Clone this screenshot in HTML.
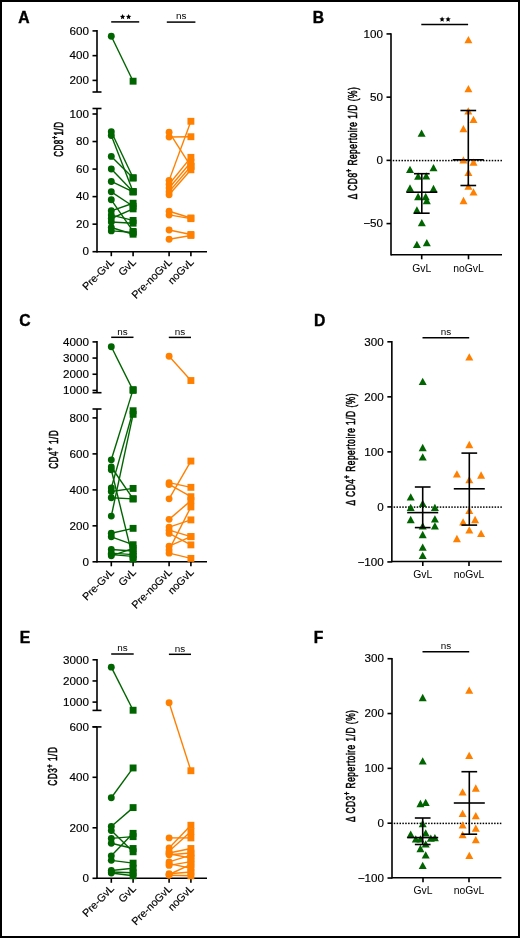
<!DOCTYPE html>
<html><head><meta charset="utf-8"><style>
html,body{margin:0;padding:0;background:#fff;}
body{width:520px;height:938px;overflow:hidden;}
svg{display:block;will-change:transform;font-family:"Liberation Sans",sans-serif;}
</style></head><body>
<svg width="520" height="938" viewBox="0 0 520 938">
<rect width="520" height="938" fill="#fff"/>
<rect x="1" y="1" width="518" height="936" fill="none" stroke="#000" stroke-width="2"/>
<text transform="translate(18.30,22.70)" font-size="15.7" text-anchor="start" font-weight="bold" fill="#000" stroke="#000" stroke-width="0.4">A</text>
<text transform="translate(312.80,22.70)" font-size="15.7" text-anchor="start" font-weight="bold" fill="#000" stroke="#000" stroke-width="0.4">B</text>
<text transform="translate(19.30,325.90)" font-size="15.7" text-anchor="start" font-weight="bold" fill="#000" stroke="#000" stroke-width="0.4">C</text>
<text transform="translate(313.90,325.90)" font-size="15.7" text-anchor="start" font-weight="bold" fill="#000" stroke="#000" stroke-width="0.4">D</text>
<text transform="translate(19.70,642.90)" font-size="15.7" text-anchor="start" font-weight="bold" fill="#000" stroke="#000" stroke-width="0.4">E</text>
<text transform="translate(313.70,642.90)" font-size="15.7" text-anchor="start" font-weight="bold" fill="#000" stroke="#000" stroke-width="0.4">F</text>
<line x1="97.00" y1="30.10" x2="97.00" y2="92.00" stroke="#000" stroke-width="1.6" />
<line x1="92.50" y1="92.00" x2="101.50" y2="92.00" stroke="#000" stroke-width="1.6" />
<line x1="92.50" y1="30.90" x2="97.00" y2="30.90" stroke="#000" stroke-width="1.6" />
<text transform="translate(88.90,34.60) scale(1.12,1)" font-size="10.4" text-anchor="end" font-weight="normal" fill="#000" stroke="#000" stroke-width="0.15">600</text>
<line x1="92.50" y1="55.65" x2="97.00" y2="55.65" stroke="#000" stroke-width="1.6" />
<text transform="translate(88.90,59.35) scale(1.12,1)" font-size="10.4" text-anchor="end" font-weight="normal" fill="#000" stroke="#000" stroke-width="0.15">400</text>
<line x1="92.50" y1="80.40" x2="97.00" y2="80.40" stroke="#000" stroke-width="1.6" />
<text transform="translate(88.90,84.10) scale(1.12,1)" font-size="10.4" text-anchor="end" font-weight="normal" fill="#000" stroke="#000" stroke-width="0.15">200</text>
<line x1="97.00" y1="108.50" x2="97.00" y2="252.50" stroke="#000" stroke-width="1.6" />
<line x1="92.50" y1="108.50" x2="101.50" y2="108.50" stroke="#000" stroke-width="1.6" />
<line x1="92.50" y1="114.00" x2="97.00" y2="114.00" stroke="#000" stroke-width="1.6" />
<text transform="translate(88.90,117.70) scale(1.12,1)" font-size="10.4" text-anchor="end" font-weight="normal" fill="#000" stroke="#000" stroke-width="0.15">100</text>
<line x1="92.50" y1="141.54" x2="97.00" y2="141.54" stroke="#000" stroke-width="1.6" />
<text transform="translate(88.90,145.24) scale(1.12,1)" font-size="10.4" text-anchor="end" font-weight="normal" fill="#000" stroke="#000" stroke-width="0.15">80</text>
<line x1="92.50" y1="169.08" x2="97.00" y2="169.08" stroke="#000" stroke-width="1.6" />
<text transform="translate(88.90,172.78) scale(1.12,1)" font-size="10.4" text-anchor="end" font-weight="normal" fill="#000" stroke="#000" stroke-width="0.15">60</text>
<line x1="92.50" y1="196.62" x2="97.00" y2="196.62" stroke="#000" stroke-width="1.6" />
<text transform="translate(88.90,200.32) scale(1.12,1)" font-size="10.4" text-anchor="end" font-weight="normal" fill="#000" stroke="#000" stroke-width="0.15">40</text>
<line x1="92.50" y1="224.16" x2="97.00" y2="224.16" stroke="#000" stroke-width="1.6" />
<text transform="translate(88.90,227.86) scale(1.12,1)" font-size="10.4" text-anchor="end" font-weight="normal" fill="#000" stroke="#000" stroke-width="0.15">20</text>
<line x1="92.50" y1="251.70" x2="97.00" y2="251.70" stroke="#000" stroke-width="1.6" />
<text transform="translate(88.90,255.40) scale(1.12,1)" font-size="10.4" text-anchor="end" font-weight="normal" fill="#000" stroke="#000" stroke-width="0.15">0</text>
<line x1="97.00" y1="251.70" x2="207.00" y2="251.70" stroke="#000" stroke-width="1.6" />
<line x1="111.30" y1="251.70" x2="111.30" y2="256.20" stroke="#000" stroke-width="1.6" />
<line x1="133.10" y1="251.70" x2="133.10" y2="256.20" stroke="#000" stroke-width="1.6" />
<line x1="169.10" y1="251.70" x2="169.10" y2="256.20" stroke="#000" stroke-width="1.6" />
<line x1="190.90" y1="251.70" x2="190.90" y2="256.20" stroke="#000" stroke-width="1.6" />
<text transform="translate(114.80,262.70) rotate(-45)" font-size="10.7" text-anchor="end" font-weight="normal" fill="#000" stroke="#000" stroke-width="0.15">Pre-GvL</text>
<text transform="translate(136.60,262.70) rotate(-45)" font-size="10.7" text-anchor="end" font-weight="normal" fill="#000" stroke="#000" stroke-width="0.15">GvL</text>
<text transform="translate(172.60,262.70) rotate(-45)" font-size="10.7" text-anchor="end" font-weight="normal" fill="#000" stroke="#000" stroke-width="0.15">Pre-noGvL</text>
<text transform="translate(194.40,262.70) rotate(-45)" font-size="10.7" text-anchor="end" font-weight="normal" fill="#000" stroke="#000" stroke-width="0.15">noGvL</text>
<text transform="translate(62.60,139.15) rotate(-90) scale(0.66,1)" font-size="12.2" font-weight="normal" stroke="#000" stroke-width="0.55" letter-spacing="0.7" text-anchor="middle">CD8<tspan font-size="8.78" dy="-4.88">+</tspan><tspan dy="4.88">1/D</tspan></text>
<line x1="111.20" y1="21.90" x2="139.20" y2="21.90" stroke="#000" stroke-width="1.5" />
<polygon points="122.60,14.10 123.37,15.84 125.26,16.03 123.85,17.31 124.25,19.17 122.60,18.22 120.95,19.17 121.35,17.31 119.94,16.03 121.83,15.84" fill="#000"/>
<polygon points="128.60,14.10 129.37,15.84 131.26,16.03 129.85,17.31 130.25,19.17 128.60,18.22 126.95,19.17 127.35,17.31 125.94,16.03 127.83,15.84" fill="#000"/>
<line x1="166.80" y1="22.10" x2="195.40" y2="22.10" stroke="#000" stroke-width="1.5" />
<text transform="translate(181.10,19.30) scale(1.1,1)" font-size="9.0" text-anchor="middle" font-weight="normal" fill="#000">ns</text>
<line x1="111.30" y1="36.30" x2="133.10" y2="81.20" stroke="#006400" stroke-width="1.4" />
<circle cx="111.30" cy="36.30" r="3.45" fill="#006400"/>
<rect x="129.65" y="77.75" width="6.9" height="6.9" fill="#006400"/>
<line x1="111.30" y1="131.76" x2="133.10" y2="177.76" stroke="#006400" stroke-width="1.4" />
<line x1="111.30" y1="135.48" x2="133.10" y2="191.66" stroke="#006400" stroke-width="1.4" />
<line x1="111.30" y1="156.41" x2="133.10" y2="178.03" stroke="#006400" stroke-width="1.4" />
<line x1="111.30" y1="168.94" x2="133.10" y2="191.66" stroke="#006400" stroke-width="1.4" />
<line x1="111.30" y1="181.47" x2="133.10" y2="191.94" stroke="#006400" stroke-width="1.4" />
<line x1="111.30" y1="191.80" x2="133.10" y2="206.26" stroke="#006400" stroke-width="1.4" />
<line x1="111.30" y1="199.79" x2="133.10" y2="231.46" stroke="#006400" stroke-width="1.4" />
<line x1="111.30" y1="210.80" x2="133.10" y2="203.23" stroke="#006400" stroke-width="1.4" />
<line x1="111.30" y1="215.07" x2="133.10" y2="220.44" stroke="#006400" stroke-width="1.4" />
<line x1="111.30" y1="218.51" x2="133.10" y2="208.88" stroke="#006400" stroke-width="1.4" />
<line x1="111.30" y1="221.96" x2="133.10" y2="223.20" stroke="#006400" stroke-width="1.4" />
<line x1="111.30" y1="227.46" x2="133.10" y2="234.21" stroke="#006400" stroke-width="1.4" />
<line x1="111.30" y1="230.91" x2="133.10" y2="232.42" stroke="#006400" stroke-width="1.4" />
<circle cx="111.30" cy="131.76" r="3.45" fill="#006400"/>
<circle cx="111.30" cy="135.48" r="3.45" fill="#006400"/>
<circle cx="111.30" cy="156.41" r="3.45" fill="#006400"/>
<circle cx="111.30" cy="168.94" r="3.45" fill="#006400"/>
<circle cx="111.30" cy="181.47" r="3.45" fill="#006400"/>
<circle cx="111.30" cy="191.80" r="3.45" fill="#006400"/>
<circle cx="111.30" cy="199.79" r="3.45" fill="#006400"/>
<circle cx="111.30" cy="210.80" r="3.45" fill="#006400"/>
<circle cx="111.30" cy="215.07" r="3.45" fill="#006400"/>
<circle cx="111.30" cy="218.51" r="3.45" fill="#006400"/>
<circle cx="111.30" cy="221.96" r="3.45" fill="#006400"/>
<circle cx="111.30" cy="227.46" r="3.45" fill="#006400"/>
<circle cx="111.30" cy="230.91" r="3.45" fill="#006400"/>
<rect x="129.65" y="174.31" width="6.9" height="6.9" fill="#006400"/>
<rect x="129.65" y="188.21" width="6.9" height="6.9" fill="#006400"/>
<rect x="129.65" y="174.58" width="6.9" height="6.9" fill="#006400"/>
<rect x="129.65" y="188.21" width="6.9" height="6.9" fill="#006400"/>
<rect x="129.65" y="188.49" width="6.9" height="6.9" fill="#006400"/>
<rect x="129.65" y="202.81" width="6.9" height="6.9" fill="#006400"/>
<rect x="129.65" y="228.01" width="6.9" height="6.9" fill="#006400"/>
<rect x="129.65" y="199.78" width="6.9" height="6.9" fill="#006400"/>
<rect x="129.65" y="216.99" width="6.9" height="6.9" fill="#006400"/>
<rect x="129.65" y="205.43" width="6.9" height="6.9" fill="#006400"/>
<rect x="129.65" y="219.75" width="6.9" height="6.9" fill="#006400"/>
<rect x="129.65" y="230.76" width="6.9" height="6.9" fill="#006400"/>
<rect x="129.65" y="228.97" width="6.9" height="6.9" fill="#006400"/>
<line x1="169.10" y1="132.18" x2="190.90" y2="166.33" stroke="#ff8000" stroke-width="1.4" />
<line x1="169.10" y1="137.00" x2="190.90" y2="136.72" stroke="#ff8000" stroke-width="1.4" />
<line x1="169.10" y1="180.37" x2="190.90" y2="121.30" stroke="#ff8000" stroke-width="1.4" />
<line x1="169.10" y1="184.23" x2="190.90" y2="157.38" stroke="#ff8000" stroke-width="1.4" />
<line x1="169.10" y1="187.94" x2="190.90" y2="162.19" stroke="#ff8000" stroke-width="1.4" />
<line x1="169.10" y1="191.66" x2="190.90" y2="166.33" stroke="#ff8000" stroke-width="1.4" />
<line x1="169.10" y1="194.69" x2="190.90" y2="169.77" stroke="#ff8000" stroke-width="1.4" />
<line x1="169.10" y1="211.22" x2="190.90" y2="217.96" stroke="#ff8000" stroke-width="1.4" />
<line x1="169.10" y1="214.93" x2="190.90" y2="218.65" stroke="#ff8000" stroke-width="1.4" />
<line x1="169.10" y1="229.94" x2="190.90" y2="234.49" stroke="#ff8000" stroke-width="1.4" />
<line x1="169.10" y1="239.31" x2="190.90" y2="235.45" stroke="#ff8000" stroke-width="1.4" />
<circle cx="169.10" cy="132.18" r="3.45" fill="#ff8000"/>
<circle cx="169.10" cy="137.00" r="3.45" fill="#ff8000"/>
<circle cx="169.10" cy="180.37" r="3.45" fill="#ff8000"/>
<circle cx="169.10" cy="184.23" r="3.45" fill="#ff8000"/>
<circle cx="169.10" cy="187.94" r="3.45" fill="#ff8000"/>
<circle cx="169.10" cy="191.66" r="3.45" fill="#ff8000"/>
<circle cx="169.10" cy="194.69" r="3.45" fill="#ff8000"/>
<circle cx="169.10" cy="211.22" r="3.45" fill="#ff8000"/>
<circle cx="169.10" cy="214.93" r="3.45" fill="#ff8000"/>
<circle cx="169.10" cy="229.94" r="3.45" fill="#ff8000"/>
<circle cx="169.10" cy="239.31" r="3.45" fill="#ff8000"/>
<rect x="187.45" y="162.88" width="6.9" height="6.9" fill="#ff8000"/>
<rect x="187.45" y="133.27" width="6.9" height="6.9" fill="#ff8000"/>
<rect x="187.45" y="117.85" width="6.9" height="6.9" fill="#ff8000"/>
<rect x="187.45" y="153.93" width="6.9" height="6.9" fill="#ff8000"/>
<rect x="187.45" y="158.75" width="6.9" height="6.9" fill="#ff8000"/>
<rect x="187.45" y="162.88" width="6.9" height="6.9" fill="#ff8000"/>
<rect x="187.45" y="166.32" width="6.9" height="6.9" fill="#ff8000"/>
<rect x="187.45" y="214.51" width="6.9" height="6.9" fill="#ff8000"/>
<rect x="187.45" y="215.20" width="6.9" height="6.9" fill="#ff8000"/>
<rect x="187.45" y="231.04" width="6.9" height="6.9" fill="#ff8000"/>
<rect x="187.45" y="232.00" width="6.9" height="6.9" fill="#ff8000"/>
<line x1="97.00" y1="341.10" x2="97.00" y2="392.70" stroke="#000" stroke-width="1.6" />
<line x1="92.50" y1="392.70" x2="101.50" y2="392.70" stroke="#000" stroke-width="1.6" />
<line x1="92.50" y1="341.90" x2="97.00" y2="341.90" stroke="#000" stroke-width="1.6" />
<text transform="translate(88.90,345.60) scale(1.12,1)" font-size="10.4" text-anchor="end" font-weight="normal" fill="#000" stroke="#000" stroke-width="0.15">4000</text>
<line x1="92.50" y1="358.07" x2="97.00" y2="358.07" stroke="#000" stroke-width="1.6" />
<text transform="translate(88.90,361.77) scale(1.12,1)" font-size="10.4" text-anchor="end" font-weight="normal" fill="#000" stroke="#000" stroke-width="0.15">3000</text>
<line x1="92.50" y1="374.24" x2="97.00" y2="374.24" stroke="#000" stroke-width="1.6" />
<text transform="translate(88.90,377.94) scale(1.12,1)" font-size="10.4" text-anchor="end" font-weight="normal" fill="#000" stroke="#000" stroke-width="0.15">2000</text>
<line x1="92.50" y1="390.41" x2="97.00" y2="390.41" stroke="#000" stroke-width="1.6" />
<text transform="translate(88.90,394.11) scale(1.12,1)" font-size="10.4" text-anchor="end" font-weight="normal" fill="#000" stroke="#000" stroke-width="0.15">1000</text>
<line x1="97.00" y1="409.00" x2="97.00" y2="562.60" stroke="#000" stroke-width="1.6" />
<line x1="92.50" y1="409.00" x2="101.50" y2="409.00" stroke="#000" stroke-width="1.6" />
<line x1="92.50" y1="417.92" x2="97.00" y2="417.92" stroke="#000" stroke-width="1.6" />
<text transform="translate(88.90,421.62) scale(1.12,1)" font-size="10.4" text-anchor="end" font-weight="normal" fill="#000" stroke="#000" stroke-width="0.15">800</text>
<line x1="92.50" y1="453.89" x2="97.00" y2="453.89" stroke="#000" stroke-width="1.6" />
<text transform="translate(88.90,457.59) scale(1.12,1)" font-size="10.4" text-anchor="end" font-weight="normal" fill="#000" stroke="#000" stroke-width="0.15">600</text>
<line x1="92.50" y1="489.86" x2="97.00" y2="489.86" stroke="#000" stroke-width="1.6" />
<text transform="translate(88.90,493.56) scale(1.12,1)" font-size="10.4" text-anchor="end" font-weight="normal" fill="#000" stroke="#000" stroke-width="0.15">400</text>
<line x1="92.50" y1="525.83" x2="97.00" y2="525.83" stroke="#000" stroke-width="1.6" />
<text transform="translate(88.90,529.53) scale(1.12,1)" font-size="10.4" text-anchor="end" font-weight="normal" fill="#000" stroke="#000" stroke-width="0.15">200</text>
<line x1="92.50" y1="561.80" x2="97.00" y2="561.80" stroke="#000" stroke-width="1.6" />
<text transform="translate(88.90,565.50) scale(1.12,1)" font-size="10.4" text-anchor="end" font-weight="normal" fill="#000" stroke="#000" stroke-width="0.15">0</text>
<line x1="97.00" y1="561.80" x2="207.00" y2="561.80" stroke="#000" stroke-width="1.6" />
<line x1="111.30" y1="561.80" x2="111.30" y2="566.30" stroke="#000" stroke-width="1.6" />
<line x1="133.10" y1="561.80" x2="133.10" y2="566.30" stroke="#000" stroke-width="1.6" />
<line x1="169.10" y1="561.80" x2="169.10" y2="566.30" stroke="#000" stroke-width="1.6" />
<line x1="190.90" y1="561.80" x2="190.90" y2="566.30" stroke="#000" stroke-width="1.6" />
<text transform="translate(114.80,572.80) rotate(-45)" font-size="10.7" text-anchor="end" font-weight="normal" fill="#000" stroke="#000" stroke-width="0.15">Pre-GvL</text>
<text transform="translate(136.60,572.80) rotate(-45)" font-size="10.7" text-anchor="end" font-weight="normal" fill="#000" stroke="#000" stroke-width="0.15">GvL</text>
<text transform="translate(172.60,572.80) rotate(-45)" font-size="10.7" text-anchor="end" font-weight="normal" fill="#000" stroke="#000" stroke-width="0.15">Pre-noGvL</text>
<text transform="translate(194.40,572.80) rotate(-45)" font-size="10.7" text-anchor="end" font-weight="normal" fill="#000" stroke="#000" stroke-width="0.15">noGvL</text>
<text transform="translate(57.60,449.30) rotate(-90) scale(0.68,1)" font-size="12.2" font-weight="normal" stroke="#000" stroke-width="0.55" letter-spacing="0.7" text-anchor="middle">CD4<tspan font-size="8.78" dy="-4.88">+</tspan><tspan dy="4.88"> 1/D</tspan></text>
<line x1="111.20" y1="337.30" x2="133.50" y2="337.30" stroke="#000" stroke-width="1.5" />
<text transform="translate(122.35,334.50) scale(1.1,1)" font-size="9.0" text-anchor="middle" font-weight="normal" fill="#000">ns</text>
<line x1="168.80" y1="337.40" x2="191.00" y2="337.40" stroke="#000" stroke-width="1.5" />
<text transform="translate(179.90,334.60) scale(1.1,1)" font-size="9.0" text-anchor="middle" font-weight="normal" fill="#000">ns</text>
<line x1="111.30" y1="346.75" x2="133.10" y2="390.41" stroke="#006400" stroke-width="1.4" />
<line x1="111.30" y1="459.83" x2="133.10" y2="389.60" stroke="#006400" stroke-width="1.4" />
<line x1="111.30" y1="467.02" x2="133.10" y2="498.85" stroke="#006400" stroke-width="1.4" />
<line x1="111.30" y1="469.72" x2="133.10" y2="559.10" stroke="#006400" stroke-width="1.4" />
<line x1="111.30" y1="487.88" x2="133.10" y2="410.73" stroke="#006400" stroke-width="1.4" />
<line x1="111.30" y1="491.48" x2="133.10" y2="488.42" stroke="#006400" stroke-width="1.4" />
<line x1="111.30" y1="497.77" x2="133.10" y2="498.85" stroke="#006400" stroke-width="1.4" />
<line x1="111.30" y1="516.12" x2="133.10" y2="414.32" stroke="#006400" stroke-width="1.4" />
<line x1="111.30" y1="533.20" x2="133.10" y2="528.35" stroke="#006400" stroke-width="1.4" />
<line x1="111.30" y1="536.80" x2="133.10" y2="544.71" stroke="#006400" stroke-width="1.4" />
<line x1="111.30" y1="549.57" x2="133.10" y2="551.01" stroke="#006400" stroke-width="1.4" />
<line x1="111.30" y1="553.17" x2="133.10" y2="554.61" stroke="#006400" stroke-width="1.4" />
<line x1="111.30" y1="554.61" x2="133.10" y2="556.40" stroke="#006400" stroke-width="1.4" />
<line x1="111.30" y1="555.86" x2="133.10" y2="548.31" stroke="#006400" stroke-width="1.4" />
<circle cx="111.30" cy="346.75" r="3.45" fill="#006400"/>
<circle cx="111.30" cy="459.83" r="3.45" fill="#006400"/>
<circle cx="111.30" cy="467.02" r="3.45" fill="#006400"/>
<circle cx="111.30" cy="469.72" r="3.45" fill="#006400"/>
<circle cx="111.30" cy="487.88" r="3.45" fill="#006400"/>
<circle cx="111.30" cy="491.48" r="3.45" fill="#006400"/>
<circle cx="111.30" cy="497.77" r="3.45" fill="#006400"/>
<circle cx="111.30" cy="516.12" r="3.45" fill="#006400"/>
<circle cx="111.30" cy="533.20" r="3.45" fill="#006400"/>
<circle cx="111.30" cy="536.80" r="3.45" fill="#006400"/>
<circle cx="111.30" cy="549.57" r="3.45" fill="#006400"/>
<circle cx="111.30" cy="553.17" r="3.45" fill="#006400"/>
<circle cx="111.30" cy="554.61" r="3.45" fill="#006400"/>
<circle cx="111.30" cy="555.86" r="3.45" fill="#006400"/>
<rect x="129.65" y="386.96" width="6.9" height="6.9" fill="#006400"/>
<rect x="129.65" y="386.15" width="6.9" height="6.9" fill="#006400"/>
<rect x="129.65" y="495.40" width="6.9" height="6.9" fill="#006400"/>
<rect x="129.65" y="555.65" width="6.9" height="6.9" fill="#006400"/>
<rect x="129.65" y="407.28" width="6.9" height="6.9" fill="#006400"/>
<rect x="129.65" y="484.97" width="6.9" height="6.9" fill="#006400"/>
<rect x="129.65" y="495.40" width="6.9" height="6.9" fill="#006400"/>
<rect x="129.65" y="410.87" width="6.9" height="6.9" fill="#006400"/>
<rect x="129.65" y="524.90" width="6.9" height="6.9" fill="#006400"/>
<rect x="129.65" y="541.26" width="6.9" height="6.9" fill="#006400"/>
<rect x="129.65" y="547.56" width="6.9" height="6.9" fill="#006400"/>
<rect x="129.65" y="551.16" width="6.9" height="6.9" fill="#006400"/>
<rect x="129.65" y="552.95" width="6.9" height="6.9" fill="#006400"/>
<rect x="129.65" y="544.86" width="6.9" height="6.9" fill="#006400"/>
<line x1="169.10" y1="356.28" x2="190.90" y2="380.53" stroke="#ff8000" stroke-width="1.4" />
<line x1="169.10" y1="482.67" x2="190.90" y2="487.34" stroke="#ff8000" stroke-width="1.4" />
<line x1="169.10" y1="484.46" x2="190.90" y2="496.69" stroke="#ff8000" stroke-width="1.4" />
<line x1="169.10" y1="498.85" x2="190.90" y2="461.08" stroke="#ff8000" stroke-width="1.4" />
<line x1="169.10" y1="519.36" x2="190.90" y2="500.65" stroke="#ff8000" stroke-width="1.4" />
<line x1="169.10" y1="527.09" x2="190.90" y2="519.89" stroke="#ff8000" stroke-width="1.4" />
<line x1="169.10" y1="530.15" x2="190.90" y2="536.62" stroke="#ff8000" stroke-width="1.4" />
<line x1="169.10" y1="533.38" x2="190.90" y2="544.89" stroke="#ff8000" stroke-width="1.4" />
<line x1="169.10" y1="546.15" x2="190.90" y2="536.62" stroke="#ff8000" stroke-width="1.4" />
<line x1="169.10" y1="549.93" x2="190.90" y2="506.95" stroke="#ff8000" stroke-width="1.4" />
<line x1="169.10" y1="553.17" x2="190.90" y2="558.38" stroke="#ff8000" stroke-width="1.4" />
<circle cx="169.10" cy="356.28" r="3.45" fill="#ff8000"/>
<circle cx="169.10" cy="482.67" r="3.45" fill="#ff8000"/>
<circle cx="169.10" cy="484.46" r="3.45" fill="#ff8000"/>
<circle cx="169.10" cy="498.85" r="3.45" fill="#ff8000"/>
<circle cx="169.10" cy="519.36" r="3.45" fill="#ff8000"/>
<circle cx="169.10" cy="527.09" r="3.45" fill="#ff8000"/>
<circle cx="169.10" cy="530.15" r="3.45" fill="#ff8000"/>
<circle cx="169.10" cy="533.38" r="3.45" fill="#ff8000"/>
<circle cx="169.10" cy="546.15" r="3.45" fill="#ff8000"/>
<circle cx="169.10" cy="549.93" r="3.45" fill="#ff8000"/>
<circle cx="169.10" cy="553.17" r="3.45" fill="#ff8000"/>
<rect x="187.45" y="377.08" width="6.9" height="6.9" fill="#ff8000"/>
<rect x="187.45" y="483.89" width="6.9" height="6.9" fill="#ff8000"/>
<rect x="187.45" y="493.24" width="6.9" height="6.9" fill="#ff8000"/>
<rect x="187.45" y="457.63" width="6.9" height="6.9" fill="#ff8000"/>
<rect x="187.45" y="497.20" width="6.9" height="6.9" fill="#ff8000"/>
<rect x="187.45" y="516.44" width="6.9" height="6.9" fill="#ff8000"/>
<rect x="187.45" y="533.17" width="6.9" height="6.9" fill="#ff8000"/>
<rect x="187.45" y="541.44" width="6.9" height="6.9" fill="#ff8000"/>
<rect x="187.45" y="533.17" width="6.9" height="6.9" fill="#ff8000"/>
<rect x="187.45" y="503.50" width="6.9" height="6.9" fill="#ff8000"/>
<rect x="187.45" y="554.93" width="6.9" height="6.9" fill="#ff8000"/>
<line x1="97.00" y1="659.00" x2="97.00" y2="710.40" stroke="#000" stroke-width="1.6" />
<line x1="92.50" y1="710.40" x2="101.50" y2="710.40" stroke="#000" stroke-width="1.6" />
<line x1="92.50" y1="659.80" x2="97.00" y2="659.80" stroke="#000" stroke-width="1.6" />
<text transform="translate(88.90,663.50) scale(1.12,1)" font-size="10.4" text-anchor="end" font-weight="normal" fill="#000" stroke="#000" stroke-width="0.15">3000</text>
<line x1="92.50" y1="680.95" x2="97.00" y2="680.95" stroke="#000" stroke-width="1.6" />
<text transform="translate(88.90,684.65) scale(1.12,1)" font-size="10.4" text-anchor="end" font-weight="normal" fill="#000" stroke="#000" stroke-width="0.15">2000</text>
<line x1="92.50" y1="702.10" x2="97.00" y2="702.10" stroke="#000" stroke-width="1.6" />
<text transform="translate(88.90,705.80) scale(1.12,1)" font-size="10.4" text-anchor="end" font-weight="normal" fill="#000" stroke="#000" stroke-width="0.15">1000</text>
<line x1="97.00" y1="726.90" x2="97.00" y2="879.10" stroke="#000" stroke-width="1.6" />
<line x1="92.50" y1="726.90" x2="101.50" y2="726.90" stroke="#000" stroke-width="1.6" />
<line x1="92.50" y1="726.80" x2="97.00" y2="726.80" stroke="#000" stroke-width="1.6" />
<text transform="translate(88.90,730.50) scale(1.12,1)" font-size="10.4" text-anchor="end" font-weight="normal" fill="#000" stroke="#000" stroke-width="0.15">600</text>
<line x1="92.50" y1="777.30" x2="97.00" y2="777.30" stroke="#000" stroke-width="1.6" />
<text transform="translate(88.90,781.00) scale(1.12,1)" font-size="10.4" text-anchor="end" font-weight="normal" fill="#000" stroke="#000" stroke-width="0.15">400</text>
<line x1="92.50" y1="827.80" x2="97.00" y2="827.80" stroke="#000" stroke-width="1.6" />
<text transform="translate(88.90,831.50) scale(1.12,1)" font-size="10.4" text-anchor="end" font-weight="normal" fill="#000" stroke="#000" stroke-width="0.15">200</text>
<line x1="92.50" y1="878.30" x2="97.00" y2="878.30" stroke="#000" stroke-width="1.6" />
<text transform="translate(88.90,882.00) scale(1.12,1)" font-size="10.4" text-anchor="end" font-weight="normal" fill="#000" stroke="#000" stroke-width="0.15">0</text>
<line x1="97.00" y1="878.30" x2="207.00" y2="878.30" stroke="#000" stroke-width="1.6" />
<line x1="111.30" y1="878.30" x2="111.30" y2="882.80" stroke="#000" stroke-width="1.6" />
<line x1="133.10" y1="878.30" x2="133.10" y2="882.80" stroke="#000" stroke-width="1.6" />
<line x1="169.10" y1="878.30" x2="169.10" y2="882.80" stroke="#000" stroke-width="1.6" />
<line x1="190.90" y1="878.30" x2="190.90" y2="882.80" stroke="#000" stroke-width="1.6" />
<text transform="translate(114.80,889.30) rotate(-45)" font-size="10.7" text-anchor="end" font-weight="normal" fill="#000" stroke="#000" stroke-width="0.15">Pre-GvL</text>
<text transform="translate(136.60,889.30) rotate(-45)" font-size="10.7" text-anchor="end" font-weight="normal" fill="#000" stroke="#000" stroke-width="0.15">GvL</text>
<text transform="translate(172.60,889.30) rotate(-45)" font-size="10.7" text-anchor="end" font-weight="normal" fill="#000" stroke="#000" stroke-width="0.15">Pre-noGvL</text>
<text transform="translate(194.40,889.30) rotate(-45)" font-size="10.7" text-anchor="end" font-weight="normal" fill="#000" stroke="#000" stroke-width="0.15">noGvL</text>
<text transform="translate(57.40,766.20) rotate(-90) scale(0.68,1)" font-size="12.2" font-weight="normal" stroke="#000" stroke-width="0.55" letter-spacing="0.7" text-anchor="middle">CD3<tspan font-size="8.78" dy="-4.88">+</tspan><tspan dy="4.88"> 1/D</tspan></text>
<line x1="111.20" y1="654.00" x2="133.70" y2="654.00" stroke="#000" stroke-width="1.5" />
<text transform="translate(122.45,651.20) scale(1.1,1)" font-size="9.0" text-anchor="middle" font-weight="normal" fill="#000">ns</text>
<line x1="168.90" y1="654.30" x2="191.00" y2="654.30" stroke="#000" stroke-width="1.5" />
<text transform="translate(179.95,651.50) scale(1.1,1)" font-size="9.0" text-anchor="middle" font-weight="normal" fill="#000">ns</text>
<line x1="111.30" y1="667.14" x2="133.10" y2="710.24" stroke="#006400" stroke-width="1.4" />
<circle cx="111.30" cy="667.14" r="3.45" fill="#006400"/>
<rect x="129.65" y="706.79" width="6.9" height="6.9" fill="#006400"/>
<line x1="111.30" y1="797.75" x2="133.10" y2="767.96" stroke="#006400" stroke-width="1.4" />
<line x1="111.30" y1="826.54" x2="133.10" y2="807.60" stroke="#006400" stroke-width="1.4" />
<line x1="111.30" y1="830.58" x2="133.10" y2="851.79" stroke="#006400" stroke-width="1.4" />
<line x1="111.30" y1="838.40" x2="133.10" y2="836.64" stroke="#006400" stroke-width="1.4" />
<line x1="111.30" y1="843.20" x2="133.10" y2="848.50" stroke="#006400" stroke-width="1.4" />
<line x1="111.30" y1="855.83" x2="133.10" y2="833.35" stroke="#006400" stroke-width="1.4" />
<line x1="111.30" y1="860.37" x2="133.10" y2="863.15" stroke="#006400" stroke-width="1.4" />
<line x1="111.30" y1="870.47" x2="133.10" y2="868.20" stroke="#006400" stroke-width="1.4" />
<line x1="111.30" y1="873.00" x2="133.10" y2="875.77" stroke="#006400" stroke-width="1.4" />
<line x1="111.30" y1="871.99" x2="133.10" y2="872.75" stroke="#006400" stroke-width="1.4" />
<circle cx="111.30" cy="797.75" r="3.45" fill="#006400"/>
<circle cx="111.30" cy="826.54" r="3.45" fill="#006400"/>
<circle cx="111.30" cy="830.58" r="3.45" fill="#006400"/>
<circle cx="111.30" cy="838.40" r="3.45" fill="#006400"/>
<circle cx="111.30" cy="843.20" r="3.45" fill="#006400"/>
<circle cx="111.30" cy="855.83" r="3.45" fill="#006400"/>
<circle cx="111.30" cy="860.37" r="3.45" fill="#006400"/>
<circle cx="111.30" cy="870.47" r="3.45" fill="#006400"/>
<circle cx="111.30" cy="873.00" r="3.45" fill="#006400"/>
<circle cx="111.30" cy="871.99" r="3.45" fill="#006400"/>
<rect x="129.65" y="764.51" width="6.9" height="6.9" fill="#006400"/>
<rect x="129.65" y="804.15" width="6.9" height="6.9" fill="#006400"/>
<rect x="129.65" y="848.34" width="6.9" height="6.9" fill="#006400"/>
<rect x="129.65" y="833.19" width="6.9" height="6.9" fill="#006400"/>
<rect x="129.65" y="845.05" width="6.9" height="6.9" fill="#006400"/>
<rect x="129.65" y="829.90" width="6.9" height="6.9" fill="#006400"/>
<rect x="129.65" y="859.70" width="6.9" height="6.9" fill="#006400"/>
<rect x="129.65" y="864.75" width="6.9" height="6.9" fill="#006400"/>
<rect x="129.65" y="872.32" width="6.9" height="6.9" fill="#006400"/>
<rect x="129.65" y="869.29" width="6.9" height="6.9" fill="#006400"/>
<line x1="169.10" y1="702.73" x2="190.90" y2="770.73" stroke="#ff8000" stroke-width="1.4" />
<circle cx="169.10" cy="702.73" r="3.45" fill="#ff8000"/>
<rect x="187.45" y="767.28" width="6.9" height="6.9" fill="#ff8000"/>
<line x1="169.10" y1="837.90" x2="190.90" y2="837.90" stroke="#ff8000" stroke-width="1.4" />
<line x1="169.10" y1="848.00" x2="190.90" y2="825.27" stroke="#ff8000" stroke-width="1.4" />
<line x1="169.10" y1="851.28" x2="190.90" y2="831.59" stroke="#ff8000" stroke-width="1.4" />
<line x1="169.10" y1="853.05" x2="190.90" y2="848.50" stroke="#ff8000" stroke-width="1.4" />
<line x1="169.10" y1="853.81" x2="190.90" y2="858.10" stroke="#ff8000" stroke-width="1.4" />
<line x1="169.10" y1="854.82" x2="190.90" y2="853.05" stroke="#ff8000" stroke-width="1.4" />
<line x1="169.10" y1="861.89" x2="190.90" y2="855.07" stroke="#ff8000" stroke-width="1.4" />
<line x1="169.10" y1="863.65" x2="190.90" y2="868.20" stroke="#ff8000" stroke-width="1.4" />
<line x1="169.10" y1="865.42" x2="190.90" y2="861.63" stroke="#ff8000" stroke-width="1.4" />
<line x1="169.10" y1="873.75" x2="190.90" y2="871.99" stroke="#ff8000" stroke-width="1.4" />
<line x1="169.10" y1="874.51" x2="190.90" y2="864.41" stroke="#ff8000" stroke-width="1.4" />
<line x1="169.10" y1="875.27" x2="190.90" y2="875.77" stroke="#ff8000" stroke-width="1.4" />
<circle cx="169.10" cy="837.90" r="3.45" fill="#ff8000"/>
<circle cx="169.10" cy="848.00" r="3.45" fill="#ff8000"/>
<circle cx="169.10" cy="851.28" r="3.45" fill="#ff8000"/>
<circle cx="169.10" cy="853.05" r="3.45" fill="#ff8000"/>
<circle cx="169.10" cy="853.81" r="3.45" fill="#ff8000"/>
<circle cx="169.10" cy="854.82" r="3.45" fill="#ff8000"/>
<circle cx="169.10" cy="861.89" r="3.45" fill="#ff8000"/>
<circle cx="169.10" cy="863.65" r="3.45" fill="#ff8000"/>
<circle cx="169.10" cy="865.42" r="3.45" fill="#ff8000"/>
<circle cx="169.10" cy="873.75" r="3.45" fill="#ff8000"/>
<circle cx="169.10" cy="874.51" r="3.45" fill="#ff8000"/>
<circle cx="169.10" cy="875.27" r="3.45" fill="#ff8000"/>
<rect x="187.45" y="834.45" width="6.9" height="6.9" fill="#ff8000"/>
<rect x="187.45" y="821.82" width="6.9" height="6.9" fill="#ff8000"/>
<rect x="187.45" y="828.14" width="6.9" height="6.9" fill="#ff8000"/>
<rect x="187.45" y="845.05" width="6.9" height="6.9" fill="#ff8000"/>
<rect x="187.45" y="854.65" width="6.9" height="6.9" fill="#ff8000"/>
<rect x="187.45" y="849.60" width="6.9" height="6.9" fill="#ff8000"/>
<rect x="187.45" y="851.62" width="6.9" height="6.9" fill="#ff8000"/>
<rect x="187.45" y="864.75" width="6.9" height="6.9" fill="#ff8000"/>
<rect x="187.45" y="858.18" width="6.9" height="6.9" fill="#ff8000"/>
<rect x="187.45" y="868.54" width="6.9" height="6.9" fill="#ff8000"/>
<rect x="187.45" y="860.96" width="6.9" height="6.9" fill="#ff8000"/>
<rect x="187.45" y="872.32" width="6.9" height="6.9" fill="#ff8000"/>
<line x1="391.00" y1="33.30" x2="391.00" y2="255.60" stroke="#000" stroke-width="1.6" />
<line x1="386.50" y1="33.92" x2="391.00" y2="33.92" stroke="#000" stroke-width="1.6" />
<text transform="translate(382.90,37.62) scale(1.12,1)" font-size="10.4" text-anchor="end" font-weight="normal" fill="#000" stroke="#000" stroke-width="0.15">100</text>
<line x1="386.50" y1="97.15" x2="391.00" y2="97.15" stroke="#000" stroke-width="1.6" />
<text transform="translate(382.90,100.85) scale(1.12,1)" font-size="10.4" text-anchor="end" font-weight="normal" fill="#000" stroke="#000" stroke-width="0.15">50</text>
<line x1="386.50" y1="160.37" x2="391.00" y2="160.37" stroke="#000" stroke-width="1.6" />
<text transform="translate(382.90,164.07) scale(1.12,1)" font-size="10.4" text-anchor="end" font-weight="normal" fill="#000" stroke="#000" stroke-width="0.15">0</text>
<line x1="386.50" y1="223.59" x2="391.00" y2="223.59" stroke="#000" stroke-width="1.6" />
<text transform="translate(382.90,227.29) scale(1.12,1)" font-size="10.4" text-anchor="end" font-weight="normal" fill="#000" stroke="#000" stroke-width="0.15">&#8722;50</text>
<line x1="391.00" y1="254.80" x2="502.00" y2="254.80" stroke="#000" stroke-width="1.6" />
<line x1="421.70" y1="254.80" x2="421.70" y2="259.30" stroke="#000" stroke-width="1.6" />
<line x1="468.50" y1="254.80" x2="468.50" y2="259.30" stroke="#000" stroke-width="1.6" />
<text transform="translate(421.70,271.60)" font-size="10.4" text-anchor="middle" font-weight="normal" fill="#000">GvL</text>
<text transform="translate(468.50,271.60)" font-size="10.4" text-anchor="middle" font-weight="normal" fill="#000">noGvL</text>
<rect x="392.75" y="159.82" width="1.5" height="1.5" fill="#000"/>
<rect x="395.66" y="159.82" width="1.5" height="1.5" fill="#000"/>
<rect x="398.57" y="159.82" width="1.5" height="1.5" fill="#000"/>
<rect x="401.48" y="159.82" width="1.5" height="1.5" fill="#000"/>
<rect x="404.39" y="159.82" width="1.5" height="1.5" fill="#000"/>
<rect x="407.30" y="159.82" width="1.5" height="1.5" fill="#000"/>
<rect x="410.21" y="159.82" width="1.5" height="1.5" fill="#000"/>
<rect x="413.13" y="159.82" width="1.5" height="1.5" fill="#000"/>
<rect x="416.04" y="159.82" width="1.5" height="1.5" fill="#000"/>
<rect x="418.95" y="159.82" width="1.5" height="1.5" fill="#000"/>
<rect x="421.86" y="159.82" width="1.5" height="1.5" fill="#000"/>
<rect x="424.77" y="159.82" width="1.5" height="1.5" fill="#000"/>
<rect x="427.68" y="159.82" width="1.5" height="1.5" fill="#000"/>
<rect x="430.59" y="159.82" width="1.5" height="1.5" fill="#000"/>
<rect x="433.50" y="159.82" width="1.5" height="1.5" fill="#000"/>
<rect x="436.41" y="159.82" width="1.5" height="1.5" fill="#000"/>
<rect x="439.32" y="159.82" width="1.5" height="1.5" fill="#000"/>
<rect x="442.23" y="159.82" width="1.5" height="1.5" fill="#000"/>
<rect x="445.14" y="159.82" width="1.5" height="1.5" fill="#000"/>
<rect x="448.06" y="159.82" width="1.5" height="1.5" fill="#000"/>
<rect x="450.97" y="159.82" width="1.5" height="1.5" fill="#000"/>
<rect x="453.88" y="159.82" width="1.5" height="1.5" fill="#000"/>
<rect x="456.79" y="159.82" width="1.5" height="1.5" fill="#000"/>
<rect x="459.70" y="159.82" width="1.5" height="1.5" fill="#000"/>
<rect x="462.61" y="159.82" width="1.5" height="1.5" fill="#000"/>
<rect x="465.52" y="159.82" width="1.5" height="1.5" fill="#000"/>
<rect x="468.43" y="159.82" width="1.5" height="1.5" fill="#000"/>
<rect x="471.34" y="159.82" width="1.5" height="1.5" fill="#000"/>
<rect x="474.25" y="159.82" width="1.5" height="1.5" fill="#000"/>
<rect x="477.16" y="159.82" width="1.5" height="1.5" fill="#000"/>
<rect x="480.07" y="159.82" width="1.5" height="1.5" fill="#000"/>
<rect x="482.99" y="159.82" width="1.5" height="1.5" fill="#000"/>
<rect x="485.90" y="159.82" width="1.5" height="1.5" fill="#000"/>
<rect x="488.81" y="159.82" width="1.5" height="1.5" fill="#000"/>
<rect x="491.72" y="159.82" width="1.5" height="1.5" fill="#000"/>
<rect x="494.63" y="159.82" width="1.5" height="1.5" fill="#000"/>
<rect x="497.54" y="159.82" width="1.5" height="1.5" fill="#000"/>
<rect x="500.45" y="159.82" width="1.5" height="1.5" fill="#000"/>
<text transform="translate(357.30,143.00) rotate(-90) scale(0.68,1)" font-size="12.4" font-weight="normal" stroke="#000" stroke-width="0.55" letter-spacing="0.7" text-anchor="middle">&#916; CD8<tspan font-size="8.93" dy="-4.96">+</tspan><tspan dy="4.96"> Repertoire 1/D (%)</tspan></text>
<line x1="421.30" y1="24.40" x2="468.10" y2="24.40" stroke="#000" stroke-width="1.5" />
<polygon points="442.10,16.60 442.87,18.34 444.76,18.53 443.35,19.81 443.75,21.67 442.10,20.72 440.45,21.67 440.85,19.81 439.44,18.53 441.33,18.34" fill="#000"/>
<polygon points="448.10,16.60 448.87,18.34 450.76,18.53 449.35,19.81 449.75,21.67 448.10,20.72 446.45,21.67 446.85,19.81 445.44,18.53 447.33,18.34" fill="#000"/>
<polygon points="417.60,136.75 425.60,136.75 421.60,129.45" fill="#006400"/>
<polygon points="406.00,172.95 414.00,172.95 410.00,165.65" fill="#006400"/>
<polygon points="429.50,171.35 437.50,171.35 433.50,164.05" fill="#006400"/>
<polygon points="414.10,179.85 422.10,179.85 418.10,172.55" fill="#006400"/>
<polygon points="422.20,179.45 430.20,179.45 426.20,172.15" fill="#006400"/>
<polygon points="406.00,191.65 414.00,191.65 410.00,184.35" fill="#006400"/>
<polygon points="429.50,192.15 437.50,192.15 433.50,184.85" fill="#006400"/>
<polygon points="414.10,200.15 422.10,200.15 418.10,192.85" fill="#006400"/>
<polygon points="421.70,200.15 429.70,200.15 425.70,192.85" fill="#006400"/>
<polygon points="422.80,204.15 430.80,204.15 426.80,196.85" fill="#006400"/>
<polygon points="412.90,213.65 420.90,213.65 416.90,206.35" fill="#006400"/>
<polygon points="417.80,226.25 425.80,226.25 421.80,218.95" fill="#006400"/>
<polygon points="412.90,247.95 420.90,247.95 416.90,240.65" fill="#006400"/>
<polygon points="422.80,246.35 430.80,246.35 426.80,239.05" fill="#006400"/>
<polygon points="464.40,43.35 472.40,43.35 468.40,36.05" fill="#ff8000"/>
<polygon points="464.40,92.35 472.40,92.35 468.40,85.05" fill="#ff8000"/>
<polygon points="464.30,114.45 472.30,114.45 468.30,107.15" fill="#ff8000"/>
<polygon points="469.50,123.05 477.50,123.05 473.50,115.75" fill="#ff8000"/>
<polygon points="459.40,132.35 467.40,132.35 463.40,125.05" fill="#ff8000"/>
<polygon points="459.40,163.45 467.40,163.45 463.40,156.15" fill="#ff8000"/>
<polygon points="469.50,165.75 477.50,165.75 473.50,158.45" fill="#ff8000"/>
<polygon points="464.40,175.95 472.40,175.95 468.40,168.65" fill="#ff8000"/>
<polygon points="464.40,189.85 472.40,189.85 468.40,182.55" fill="#ff8000"/>
<polygon points="469.50,195.55 477.50,195.55 473.50,188.25" fill="#ff8000"/>
<polygon points="459.50,204.15 467.50,204.15 463.50,196.85" fill="#ff8000"/>
<line x1="421.80" y1="173.70" x2="421.80" y2="213.20" stroke="#000" stroke-width="1.6" />
<line x1="413.95" y1="173.70" x2="429.65" y2="173.70" stroke="#000" stroke-width="1.6" />
<line x1="413.95" y1="213.20" x2="429.65" y2="213.20" stroke="#000" stroke-width="1.6" />
<line x1="406.30" y1="192.20" x2="437.30" y2="192.20" stroke="#000" stroke-width="1.6" />
<line x1="468.30" y1="110.50" x2="468.30" y2="185.50" stroke="#000" stroke-width="1.6" />
<line x1="460.45" y1="110.50" x2="476.15" y2="110.50" stroke="#000" stroke-width="1.6" />
<line x1="460.45" y1="185.50" x2="476.15" y2="185.50" stroke="#000" stroke-width="1.6" />
<line x1="452.80" y1="159.80" x2="483.80" y2="159.80" stroke="#000" stroke-width="1.6" />
<line x1="391.85" y1="341.05" x2="391.85" y2="562.30" stroke="#000" stroke-width="1.6" />
<line x1="387.35" y1="341.81" x2="391.85" y2="341.81" stroke="#000" stroke-width="1.6" />
<text transform="translate(383.75,345.51) scale(1.12,1)" font-size="10.4" text-anchor="end" font-weight="normal" fill="#000" stroke="#000" stroke-width="0.15">300</text>
<line x1="387.35" y1="396.84" x2="391.85" y2="396.84" stroke="#000" stroke-width="1.6" />
<text transform="translate(383.75,400.54) scale(1.12,1)" font-size="10.4" text-anchor="end" font-weight="normal" fill="#000" stroke="#000" stroke-width="0.15">200</text>
<line x1="387.35" y1="451.87" x2="391.85" y2="451.87" stroke="#000" stroke-width="1.6" />
<text transform="translate(383.75,455.57) scale(1.12,1)" font-size="10.4" text-anchor="end" font-weight="normal" fill="#000" stroke="#000" stroke-width="0.15">100</text>
<line x1="387.35" y1="506.90" x2="391.85" y2="506.90" stroke="#000" stroke-width="1.6" />
<text transform="translate(383.75,510.60) scale(1.12,1)" font-size="10.4" text-anchor="end" font-weight="normal" fill="#000" stroke="#000" stroke-width="0.15">0</text>
<line x1="387.35" y1="561.93" x2="391.85" y2="561.93" stroke="#000" stroke-width="1.6" />
<text transform="translate(383.75,565.63) scale(1.12,1)" font-size="10.4" text-anchor="end" font-weight="normal" fill="#000" stroke="#000" stroke-width="0.15">&#8722;100</text>
<line x1="391.85" y1="561.50" x2="501.90" y2="561.50" stroke="#000" stroke-width="1.6" />
<line x1="422.80" y1="561.50" x2="422.80" y2="566.00" stroke="#000" stroke-width="1.6" />
<line x1="469.00" y1="561.50" x2="469.00" y2="566.00" stroke="#000" stroke-width="1.6" />
<text transform="translate(422.80,577.70)" font-size="10.4" text-anchor="middle" font-weight="normal" fill="#000">GvL</text>
<text transform="translate(469.00,577.70)" font-size="10.4" text-anchor="middle" font-weight="normal" fill="#000">noGvL</text>
<rect x="393.60" y="506.35" width="1.5" height="1.5" fill="#000"/>
<rect x="396.49" y="506.35" width="1.5" height="1.5" fill="#000"/>
<rect x="399.37" y="506.35" width="1.5" height="1.5" fill="#000"/>
<rect x="402.26" y="506.35" width="1.5" height="1.5" fill="#000"/>
<rect x="405.14" y="506.35" width="1.5" height="1.5" fill="#000"/>
<rect x="408.03" y="506.35" width="1.5" height="1.5" fill="#000"/>
<rect x="410.91" y="506.35" width="1.5" height="1.5" fill="#000"/>
<rect x="413.80" y="506.35" width="1.5" height="1.5" fill="#000"/>
<rect x="416.68" y="506.35" width="1.5" height="1.5" fill="#000"/>
<rect x="419.57" y="506.35" width="1.5" height="1.5" fill="#000"/>
<rect x="422.45" y="506.35" width="1.5" height="1.5" fill="#000"/>
<rect x="425.34" y="506.35" width="1.5" height="1.5" fill="#000"/>
<rect x="428.22" y="506.35" width="1.5" height="1.5" fill="#000"/>
<rect x="431.11" y="506.35" width="1.5" height="1.5" fill="#000"/>
<rect x="433.99" y="506.35" width="1.5" height="1.5" fill="#000"/>
<rect x="436.88" y="506.35" width="1.5" height="1.5" fill="#000"/>
<rect x="439.76" y="506.35" width="1.5" height="1.5" fill="#000"/>
<rect x="442.65" y="506.35" width="1.5" height="1.5" fill="#000"/>
<rect x="445.53" y="506.35" width="1.5" height="1.5" fill="#000"/>
<rect x="448.42" y="506.35" width="1.5" height="1.5" fill="#000"/>
<rect x="451.30" y="506.35" width="1.5" height="1.5" fill="#000"/>
<rect x="454.19" y="506.35" width="1.5" height="1.5" fill="#000"/>
<rect x="457.07" y="506.35" width="1.5" height="1.5" fill="#000"/>
<rect x="459.96" y="506.35" width="1.5" height="1.5" fill="#000"/>
<rect x="462.84" y="506.35" width="1.5" height="1.5" fill="#000"/>
<rect x="465.73" y="506.35" width="1.5" height="1.5" fill="#000"/>
<rect x="468.61" y="506.35" width="1.5" height="1.5" fill="#000"/>
<rect x="471.50" y="506.35" width="1.5" height="1.5" fill="#000"/>
<rect x="474.38" y="506.35" width="1.5" height="1.5" fill="#000"/>
<rect x="477.27" y="506.35" width="1.5" height="1.5" fill="#000"/>
<rect x="480.15" y="506.35" width="1.5" height="1.5" fill="#000"/>
<rect x="483.04" y="506.35" width="1.5" height="1.5" fill="#000"/>
<rect x="485.92" y="506.35" width="1.5" height="1.5" fill="#000"/>
<rect x="488.81" y="506.35" width="1.5" height="1.5" fill="#000"/>
<rect x="491.69" y="506.35" width="1.5" height="1.5" fill="#000"/>
<rect x="494.58" y="506.35" width="1.5" height="1.5" fill="#000"/>
<rect x="497.46" y="506.35" width="1.5" height="1.5" fill="#000"/>
<rect x="500.35" y="506.35" width="1.5" height="1.5" fill="#000"/>
<text transform="translate(354.90,449.20) rotate(-90) scale(0.68,1)" font-size="12.4" font-weight="normal" stroke="#000" stroke-width="0.55" letter-spacing="0.7" text-anchor="middle">&#916; CD4<tspan font-size="8.93" dy="-4.96">+</tspan><tspan dy="4.96"> Repertoire 1/D (%)</tspan></text>
<line x1="422.50" y1="337.70" x2="469.20" y2="337.70" stroke="#000" stroke-width="1.5" />
<text transform="translate(445.85,334.90) scale(1.1,1)" font-size="9.0" text-anchor="middle" font-weight="normal" fill="#000">ns</text>
<polygon points="418.70,385.05 426.70,385.05 422.70,377.75" fill="#006400"/>
<polygon points="418.70,451.15 426.70,451.15 422.70,443.85" fill="#006400"/>
<polygon points="418.70,460.45 426.70,460.45 422.70,453.15" fill="#006400"/>
<polygon points="406.70,500.55 414.70,500.55 410.70,493.25" fill="#006400"/>
<polygon points="418.70,507.05 426.70,507.05 422.70,499.75" fill="#006400"/>
<polygon points="406.70,510.95 414.70,510.95 410.70,503.65" fill="#006400"/>
<polygon points="430.90,510.95 438.90,510.95 434.90,503.65" fill="#006400"/>
<polygon points="430.90,522.45 438.90,522.45 434.90,515.15" fill="#006400"/>
<polygon points="406.70,523.15 414.70,523.15 410.70,515.85" fill="#006400"/>
<polygon points="418.70,529.45 426.70,529.45 422.70,522.15" fill="#006400"/>
<polygon points="430.90,529.45 438.90,529.45 434.90,522.15" fill="#006400"/>
<polygon points="418.70,538.15 426.70,538.15 422.70,530.85" fill="#006400"/>
<polygon points="418.70,550.85 426.70,550.85 422.70,543.55" fill="#006400"/>
<polygon points="418.70,558.95 426.70,558.95 422.70,551.65" fill="#006400"/>
<polygon points="465.30,360.45 473.30,360.45 469.30,353.15" fill="#ff8000"/>
<polygon points="465.30,448.15 473.30,448.15 469.30,440.85" fill="#ff8000"/>
<polygon points="452.90,477.45 460.90,477.45 456.90,470.15" fill="#ff8000"/>
<polygon points="477.10,478.65 485.10,478.65 481.10,471.35" fill="#ff8000"/>
<polygon points="465.30,483.25 473.30,483.25 469.30,475.95" fill="#ff8000"/>
<polygon points="465.30,513.95 473.30,513.95 469.30,506.65" fill="#ff8000"/>
<polygon points="459.10,525.55 467.10,525.55 463.10,518.25" fill="#ff8000"/>
<polygon points="471.10,523.15 479.10,523.15 475.10,515.85" fill="#ff8000"/>
<polygon points="465.30,533.55 473.30,533.55 469.30,526.25" fill="#ff8000"/>
<polygon points="477.10,537.05 485.10,537.05 481.10,529.75" fill="#ff8000"/>
<polygon points="452.90,542.15 460.90,542.15 456.90,534.85" fill="#ff8000"/>
<line x1="422.70" y1="487.00" x2="422.70" y2="527.60" stroke="#000" stroke-width="1.6" />
<line x1="414.85" y1="487.00" x2="430.55" y2="487.00" stroke="#000" stroke-width="1.6" />
<line x1="414.85" y1="527.60" x2="430.55" y2="527.60" stroke="#000" stroke-width="1.6" />
<line x1="407.20" y1="512.60" x2="438.20" y2="512.60" stroke="#000" stroke-width="1.6" />
<line x1="469.30" y1="453.10" x2="469.30" y2="525.10" stroke="#000" stroke-width="1.6" />
<line x1="461.45" y1="453.10" x2="477.15" y2="453.10" stroke="#000" stroke-width="1.6" />
<line x1="461.45" y1="525.10" x2="477.15" y2="525.10" stroke="#000" stroke-width="1.6" />
<line x1="453.80" y1="488.80" x2="484.80" y2="488.80" stroke="#000" stroke-width="1.6" />
<line x1="392.00" y1="657.95" x2="392.00" y2="878.50" stroke="#000" stroke-width="1.6" />
<line x1="387.50" y1="658.71" x2="392.00" y2="658.71" stroke="#000" stroke-width="1.6" />
<text transform="translate(383.90,662.41) scale(1.12,1)" font-size="10.4" text-anchor="end" font-weight="normal" fill="#000" stroke="#000" stroke-width="0.15">300</text>
<line x1="387.50" y1="713.54" x2="392.00" y2="713.54" stroke="#000" stroke-width="1.6" />
<text transform="translate(383.90,717.24) scale(1.12,1)" font-size="10.4" text-anchor="end" font-weight="normal" fill="#000" stroke="#000" stroke-width="0.15">200</text>
<line x1="387.50" y1="768.37" x2="392.00" y2="768.37" stroke="#000" stroke-width="1.6" />
<text transform="translate(383.90,772.07) scale(1.12,1)" font-size="10.4" text-anchor="end" font-weight="normal" fill="#000" stroke="#000" stroke-width="0.15">100</text>
<line x1="387.50" y1="823.20" x2="392.00" y2="823.20" stroke="#000" stroke-width="1.6" />
<text transform="translate(383.90,826.90) scale(1.12,1)" font-size="10.4" text-anchor="end" font-weight="normal" fill="#000" stroke="#000" stroke-width="0.15">0</text>
<line x1="387.50" y1="878.03" x2="392.00" y2="878.03" stroke="#000" stroke-width="1.6" />
<text transform="translate(383.90,881.73) scale(1.12,1)" font-size="10.4" text-anchor="end" font-weight="normal" fill="#000" stroke="#000" stroke-width="0.15">&#8722;100</text>
<line x1="392.00" y1="877.70" x2="501.40" y2="877.70" stroke="#000" stroke-width="1.6" />
<line x1="423.00" y1="877.70" x2="423.00" y2="882.20" stroke="#000" stroke-width="1.6" />
<line x1="469.00" y1="877.70" x2="469.00" y2="882.20" stroke="#000" stroke-width="1.6" />
<text transform="translate(423.00,894.00)" font-size="10.4" text-anchor="middle" font-weight="normal" fill="#000">GvL</text>
<text transform="translate(469.00,894.00)" font-size="10.4" text-anchor="middle" font-weight="normal" fill="#000">noGvL</text>
<rect x="393.75" y="822.65" width="1.5" height="1.5" fill="#000"/>
<rect x="396.62" y="822.65" width="1.5" height="1.5" fill="#000"/>
<rect x="399.49" y="822.65" width="1.5" height="1.5" fill="#000"/>
<rect x="402.35" y="822.65" width="1.5" height="1.5" fill="#000"/>
<rect x="405.22" y="822.65" width="1.5" height="1.5" fill="#000"/>
<rect x="408.09" y="822.65" width="1.5" height="1.5" fill="#000"/>
<rect x="410.96" y="822.65" width="1.5" height="1.5" fill="#000"/>
<rect x="413.82" y="822.65" width="1.5" height="1.5" fill="#000"/>
<rect x="416.69" y="822.65" width="1.5" height="1.5" fill="#000"/>
<rect x="419.56" y="822.65" width="1.5" height="1.5" fill="#000"/>
<rect x="422.43" y="822.65" width="1.5" height="1.5" fill="#000"/>
<rect x="425.29" y="822.65" width="1.5" height="1.5" fill="#000"/>
<rect x="428.16" y="822.65" width="1.5" height="1.5" fill="#000"/>
<rect x="431.03" y="822.65" width="1.5" height="1.5" fill="#000"/>
<rect x="433.90" y="822.65" width="1.5" height="1.5" fill="#000"/>
<rect x="436.76" y="822.65" width="1.5" height="1.5" fill="#000"/>
<rect x="439.63" y="822.65" width="1.5" height="1.5" fill="#000"/>
<rect x="442.50" y="822.65" width="1.5" height="1.5" fill="#000"/>
<rect x="445.37" y="822.65" width="1.5" height="1.5" fill="#000"/>
<rect x="448.23" y="822.65" width="1.5" height="1.5" fill="#000"/>
<rect x="451.10" y="822.65" width="1.5" height="1.5" fill="#000"/>
<rect x="453.97" y="822.65" width="1.5" height="1.5" fill="#000"/>
<rect x="456.84" y="822.65" width="1.5" height="1.5" fill="#000"/>
<rect x="459.70" y="822.65" width="1.5" height="1.5" fill="#000"/>
<rect x="462.57" y="822.65" width="1.5" height="1.5" fill="#000"/>
<rect x="465.44" y="822.65" width="1.5" height="1.5" fill="#000"/>
<rect x="468.31" y="822.65" width="1.5" height="1.5" fill="#000"/>
<rect x="471.17" y="822.65" width="1.5" height="1.5" fill="#000"/>
<rect x="474.04" y="822.65" width="1.5" height="1.5" fill="#000"/>
<rect x="476.91" y="822.65" width="1.5" height="1.5" fill="#000"/>
<rect x="479.78" y="822.65" width="1.5" height="1.5" fill="#000"/>
<rect x="482.64" y="822.65" width="1.5" height="1.5" fill="#000"/>
<rect x="485.51" y="822.65" width="1.5" height="1.5" fill="#000"/>
<rect x="488.38" y="822.65" width="1.5" height="1.5" fill="#000"/>
<rect x="491.25" y="822.65" width="1.5" height="1.5" fill="#000"/>
<rect x="494.11" y="822.65" width="1.5" height="1.5" fill="#000"/>
<rect x="496.98" y="822.65" width="1.5" height="1.5" fill="#000"/>
<rect x="499.85" y="822.65" width="1.5" height="1.5" fill="#000"/>
<text transform="translate(354.90,765.80) rotate(-90) scale(0.68,1)" font-size="12.4" font-weight="normal" stroke="#000" stroke-width="0.55" letter-spacing="0.7" text-anchor="middle">&#916; CD3<tspan font-size="8.93" dy="-4.96">+</tspan><tspan dy="4.96"> Repertoire 1/D (%)</tspan></text>
<line x1="422.50" y1="651.70" x2="469.20" y2="651.70" stroke="#000" stroke-width="1.5" />
<text transform="translate(445.85,648.90) scale(1.1,1)" font-size="9.0" text-anchor="middle" font-weight="normal" fill="#000">ns</text>
<polygon points="418.70,701.15 426.70,701.15 422.70,693.85" fill="#006400"/>
<polygon points="418.70,764.55 426.70,764.55 422.70,757.25" fill="#006400"/>
<polygon points="416.40,807.15 424.40,807.15 420.40,799.85" fill="#006400"/>
<polygon points="421.70,805.95 429.70,805.95 425.70,798.65" fill="#006400"/>
<polygon points="418.70,827.15 426.70,827.15 422.70,819.85" fill="#006400"/>
<polygon points="406.70,837.85 414.70,837.85 410.70,830.55" fill="#006400"/>
<polygon points="421.70,836.45 429.70,836.45 425.70,829.15" fill="#006400"/>
<polygon points="411.80,842.45 419.80,842.45 415.80,835.15" fill="#006400"/>
<polygon points="430.90,841.25 438.90,841.25 434.90,833.95" fill="#006400"/>
<polygon points="426.80,841.75 434.80,841.75 430.80,834.45" fill="#006400"/>
<polygon points="416.40,842.45 424.40,842.45 420.40,835.15" fill="#006400"/>
<polygon points="421.70,847.45 429.70,847.45 425.70,840.15" fill="#006400"/>
<polygon points="416.40,852.15 424.40,852.15 420.40,844.85" fill="#006400"/>
<polygon points="421.70,858.55 429.70,858.55 425.70,851.25" fill="#006400"/>
<polygon points="418.70,868.95 426.70,868.95 422.70,861.65" fill="#006400"/>
<polygon points="465.20,693.85 473.20,693.85 469.20,686.55" fill="#ff8000"/>
<polygon points="465.20,759.05 473.20,759.05 469.20,751.75" fill="#ff8000"/>
<polygon points="458.60,795.55 466.60,795.55 462.60,788.25" fill="#ff8000"/>
<polygon points="471.80,791.65 479.80,791.65 475.80,784.35" fill="#ff8000"/>
<polygon points="458.60,817.05 466.60,817.05 462.60,809.75" fill="#ff8000"/>
<polygon points="471.80,819.35 479.80,819.35 475.80,812.05" fill="#ff8000"/>
<polygon points="458.60,828.55 466.60,828.55 462.60,821.25" fill="#ff8000"/>
<polygon points="471.80,831.85 479.80,831.85 475.80,824.55" fill="#ff8000"/>
<polygon points="458.60,838.25 466.60,838.25 462.60,830.95" fill="#ff8000"/>
<polygon points="471.80,843.35 479.80,843.35 475.80,836.05" fill="#ff8000"/>
<polygon points="465.30,859.05 473.30,859.05 469.30,851.75" fill="#ff8000"/>
<line x1="422.70" y1="818.00" x2="422.70" y2="844.50" stroke="#000" stroke-width="1.6" />
<line x1="414.85" y1="818.00" x2="430.55" y2="818.00" stroke="#000" stroke-width="1.6" />
<line x1="414.85" y1="844.50" x2="430.55" y2="844.50" stroke="#000" stroke-width="1.6" />
<line x1="407.20" y1="837.60" x2="438.20" y2="837.60" stroke="#000" stroke-width="1.6" />
<line x1="469.30" y1="771.70" x2="469.30" y2="834.20" stroke="#000" stroke-width="1.6" />
<line x1="461.45" y1="771.70" x2="477.15" y2="771.70" stroke="#000" stroke-width="1.6" />
<line x1="461.45" y1="834.20" x2="477.15" y2="834.20" stroke="#000" stroke-width="1.6" />
<line x1="453.80" y1="803.00" x2="484.80" y2="803.00" stroke="#000" stroke-width="1.6" />
</svg>
</body></html>
